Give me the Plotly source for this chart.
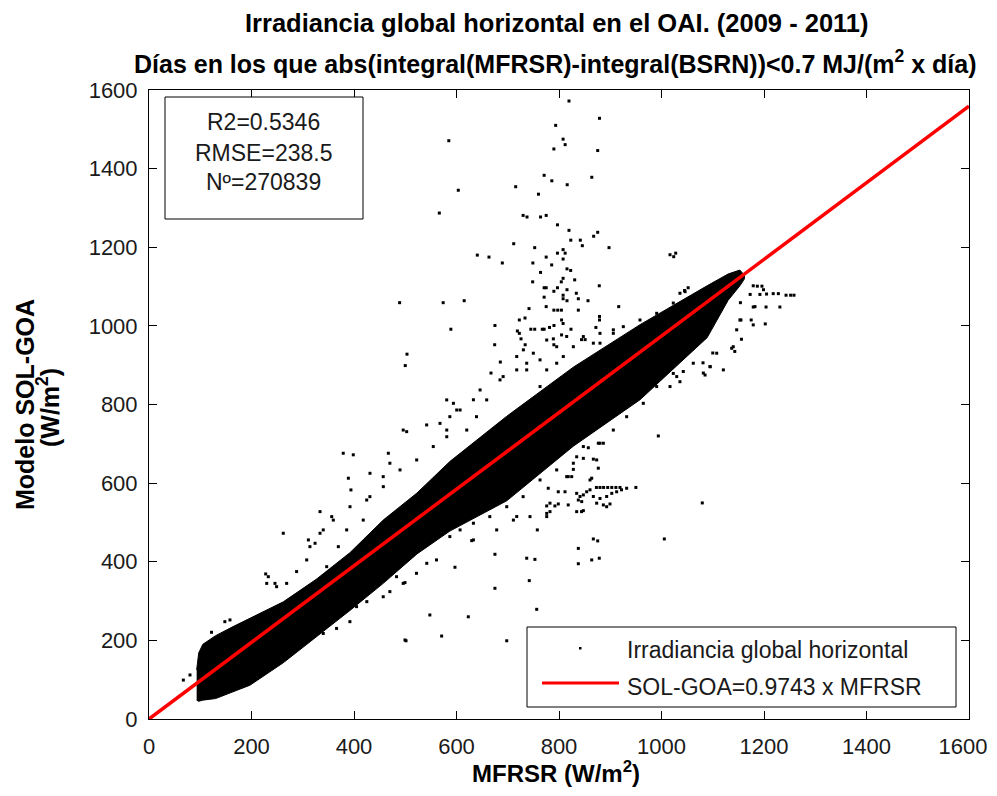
import plotly.graph_objects as go

# ---------------- data ----------------
# Dense core of the 270 839-point cloud: upper and lower envelope per MFRSR value
band_x = [93, 97, 105, 130, 164, 197, 262, 327, 392, 457, 523, 587, 698, 828, 958, 1089, 1130, 1153, 1162]
band_upper = [125, 168, 190, 212, 235, 256, 298, 356, 423, 506, 575, 655, 770, 895, 1003, 1102, 1132, 1142, 1128]
band_lower = [48, 45, 48, 52, 70, 86, 143, 210, 276, 345, 420, 478, 555, 694, 812, 970, 1065, 1102, 1120]

# Isolated points outside the dense core
outlier_x = [
    819.5, 879, 793.5, 808, 812, 790, 875.5, 585, 771, 786, 864, 816, 715.5, 760, 603.5, 566.5, 730, 737.6, 764, 775,
    797, 819.5, 875.5, 867.6, 823, 841.6, 845.5, 897.6, 711.6, 752.6, 640.6, 663.4, 689.4, 808, 812, 797, 808, 775,
    785.7, 749, 764, 815.6, 822.8, 808, 804.5, 830.6, 748.6, 1016.6, 1023.8, 1027.7, 878.6, 489, 574, 615, 771, 775,
    797, 790, 815.6, 833.8, 771, 808, 808, 815.6, 837.7, 856.6, 775, 741.5, 790, 797.5, 804.7, 837.7, 916.5, 733.7,
    722.6, 675, 589, 674.5, 503.4, 500, 685.5, 667.3, 879, 879, 745, 752.6, 767.4, 771, 781.5, 790.2, 805, 808,
    823.4, 872, 718.8, 722.6, 725.9, 734, 730.5, 805, 789, 790, 844, 851,
    691, 646, 633, 607, 594, 620, 581, 639, 587, 717.5, 737, 763, 776, 795.5, 808.4, 815, 867, 880, 906, 925.5, 958,
    990.6, 1023, 1036, 1046, 1052, 1045,
    1179, 1187, 1196, 1199, 1173, 1192, 1205, 1218, 1228, 1243, 1252, 1258.5, 1204, 1231, 1179, 1154, 1202.5, 1156,
    1120.7, 1155, 1175, 1137, 1143, 1100, 1081, 1095, 1085, 1094.6, 1062, 1107.7, 1140, 1146.7, 1153, 1182.4, 1179,
    1081.6, 1042.5, 1016.6, 1029.7, 1023, 1036, 990.6, 964.5, 932, 906, 880, 847.5, 873.5, 828, 795.5, 763, 730, 698,
    665, 633, 607, 587, 782.4, 743.4, 815, 860.5, 776, 711, 678.4, 633,
    873, 880, 887, 895, 903, 911, 919, 834.5, 841, 847.5, 837.7, 844.3, 860.5, 854, 867, 880, 893, 903, 912.5, 922,
    932, 950, 873.5, 886.5, 899.5, 893, 776, 792, 798.6, 776, 782.4, 779, 798.6, 811.7, 834.5, 847.5, 993.8, 1079.6,
    1005.5, 867, 875.5, 837.7, 837.7, 863.8, 878.6, 863.8, 876.7, 886.5, 857.2, 834.5, 847.5, 867, 876.7, 828, 818,
    824.8, 737, 753, 675, 675, 742, 756.5, 623, 548, 571, 501.5, 597, 629.7, 698, 818, 844, 757.7, 717.5,
    314, 340, 366, 392, 405, 425, 457, 470, 496, 522, 542, 561, 499.5, 499.5, 483, 268.6, 281.6, 262, 177.6, 197,
    216.6, 112.6, 132, 151.6,
    262, 227.7, 245.8, 249, 379, 398.6, 389, 333.7, 356.5, 340, 311, 324, 394, 148, 158, 122, 67, 80, 229.7, 232.8,
    268.6, 288, 307.7, 346.7, 369.4, 385.7, 418, 431, 457, 470, 496, 541.8, 567.8, 581,
    431.2, 467, 502.8, 580.9, 600.4, 658.9, 684.9, 717.5, 749.9, 776, 737, 763, 795.5, 828, 847.5, 880, 906,
    554.7, 522.3, 489.8, 457.2, 424.8, 392.2, 359.6, 333.7, 314,
]
outlier_y = [
    1572, 1528, 1510, 1475, 1461, 1450, 1446, 1471, 1383, 1369, 1378, 1359, 1354, 1335, 1345, 1287, 1281, 1277, 1277, 1281,
    1257, 1243, 1238, 1228, 1218, 1218, 1204, 1199, 1209, 1199, 1180, 1175, 1160, 1194, 1185, 1185, 1170, 1175,
    1155, 1160, 1136, 1145, 1141, 1121, 1112, 1117, 1112, 1181, 1176, 1185, 1102, 1059, 1059, 1064, 1097, 1097,
    1097, 1088, 1092, 1083, 1073, 1078, 1069, 1064, 1069, 1064, 1049, 1044, 1040, 1040, 1040, 1040, 1049, 1020,
    1015, 1001, 991.5, 952, 928, 899, 908, 880, 1024, 1015, 991.5, 991.5, 991.5, 991.5, 996, 1001, 1015, 1006,
    991.5, 996, 987, 981, 967, 952, 939, 977, 967, 952, 965, 965,
    871, 837, 812, 786, 803, 735, 735, 769, 769, 922, 888, 913.5, 888, 947, 922, 973, 956, 981, 990, 998, 1015,
    1032, 1058, 1083, 1087, 1097, 1090,
    1102, 1101, 1101, 1092, 1080, 1080, 1081, 1082, 1082, 1078, 1078, 1078, 1048, 1048, 1048, 1059, 1005, 966,
    888, 1015, 1015, 943, 935, 931, 906, 896, 875, 896.5, 905, 930.5, 947, 990, 1015, 1049, 1002.5,
    880, 884, 845.6, 871, 879, 858, 845.6, 803, 769, 735, 701.5, 693, 659, 650.6, 633.6, 608, 565.6, 540,
    514.8, 498, 481, 464, 549, 514.8, 616.5, 608, 514.8, 506, 481, 455.5,
    589, 589, 589, 589, 589, 589, 589, 574, 566, 570, 557, 553, 583, 578, 566, 561, 566, 574, 578, 583,
    587, 589, 549, 544.5, 547, 540, 542, 542, 547, 523, 527.5, 587, 578, 578, 527.5, 530, 720, 549.6,
    458, 458, 453, 434, 395, 404.6, 409, 612.5, 701.5, 701.5, 690, 667, 663, 661, 638, 635, 616.5,
    616.5, 409, 406, 419, 332.5, 352, 279, 260, 264.6, 211, 199, 386, 453.7, 199, 544.5, 527.5, 481, 515,
    208, 217.6, 230.4, 247.6, 285.8, 298.5, 311, 324, 345, 370.6, 396, 404.6, 201, 347, 362, 197, 205, 192.6, 91, 103.6,
    116, 56.7, 65, 74,
    472.5, 369, 345, 336.6, 676, 672, 612.5, 527.5, 514.8, 481, 455.5, 447, 582.7, 247.6, 252, 220.6, 99, 112, 345, 362,
    345, 375, 404.6, 387.5, 438.4, 481, 506, 565.6, 616.5, 650.6, 735, 748, 752, 718,
    625, 676, 731, 811.7, 786, 811.7, 862.6, 888, 930.5, 964, 905, 845.6, 905, 947, 972.8, 956, 981,
    693, 659, 633.6, 591, 557, 540, 506, 472.5, 438.4,
]

# Fitted line SOL-GOA = 0.9743 x MFRSR
fit_slope = 0.9743
fit_x = [0, 1600]

axis_ticks = [0, 200, 400, 600, 800, 1000, 1200, 1400, 1600]
tick_labels = ["0", "200", "400", "600", "800", "1000", "1200", "1400", "1600"]
stats_lines = ["R2=0.5346", "RMSE=238.5", "Nº=270839"]
legend_labels = ["Irradiancia global horizontal", "SOL-GOA=0.9743 x MFRSR"]

title_1 = "Irradiancia global horizontal en el OAI. (2009 - 2011)"
title_2 = "Días en los que abs(integral(MFRSR)-integral(BSRN))<0.7 MJ/(m<sup>2</sup> x día)"
x_title = "MFRSR (W/m<sup>2</sup>)"
y_title_1 = "Modelo SOL-GOA"
y_title_2 = "(W/m<sup>2</sup>)"

FONT = "Liberation Sans, Arial, Helvetica, sans-serif"

# ---------------- figure ----------------
fig = go.Figure()

# dense core of the cloud
fig.add_trace(go.Scatter(
    x=band_x + band_x[::-1],
    y=band_upper + band_lower[::-1],
    fill="toself", fillcolor="black",
    line=dict(color="black", width=1),
    mode="lines", hoverinfo="skip", showlegend=False,
    name=legend_labels[0],
))
# isolated points
fig.add_trace(go.Scatter(
    x=outlier_x, y=outlier_y, mode="markers",
    marker=dict(color="black", size=3, symbol="square", line=dict(width=0)),
    showlegend=False, name=legend_labels[0],
))
# fitted line
fig.add_trace(go.Scatter(
    x=fit_x, y=[fit_slope * v for v in fit_x], mode="lines",
    line=dict(color="#ff0000", width=3.5),
    showlegend=False, name=legend_labels[1],
))

axis_common = dict(
    range=[0, 1600], tickvals=axis_ticks,
    showgrid=False, zeroline=False, showline=True, linecolor="black", linewidth=1,
    mirror="ticks", ticks="inside", ticklen=8, tickwidth=1, tickcolor="black",
    tickfont=dict(family=FONT, size=22, color="#1a1a1a"),
)
# last x label nudged slightly left (trailing no-break spaces) so it stays inside the page
x_tick_text = tick_labels[:-1] + [tick_labels[-1] + "\u00a0\u00a0"]
fig.update_xaxes(**axis_common, ticktext=x_tick_text, ticklabelstandoff=8, ticklabeloverflow="allow")
fig.update_yaxes(**axis_common, ticktext=tick_labels, ticklabelstandoff=6)

def px_x(p):
    return (p - 149) / 820.0

def px_y(p):
    return (719 - p) / 629.0

ann = []
# titles
ann.append(dict(text="<b>" + title_1 + "</b>", x=px_x(557), y=px_y(23), size=25.5))
ann.append(dict(text="<b>" + title_2 + "</b>", x=px_x(555), y=px_y(62), size=25))
ann.append(dict(text="<b>" + x_title + "</b>", x=px_x(556), y=px_y(772), size=24))
ann.append(dict(text="<b>" + y_title_1 + "</b>", x=px_x(25), y=px_y(405), size=25, textangle=-90))
ann.append(dict(text="<b>" + y_title_2 + "</b>", x=px_x(48), y=px_y(408), size=25, textangle=-90))
for a in ann:
    s = a.pop("size")
    a.update(xref="paper", yref="paper", showarrow=False, xanchor="center", yanchor="middle",
             font=dict(family=FONT, size=s, color="black"))

# stats box text
for line, py in zip(stats_lines, [122, 153, 182]):
    ann.append(dict(text=line, x=px_x(263), y=px_y(py), xref="paper", yref="paper", showarrow=False,
                    xanchor="center", yanchor="middle", font=dict(family=FONT, size=23, color="#1a1a1a")))
# legend text
for line, py in zip(legend_labels, [650, 687]):
    ann.append(dict(text=line, x=px_x(625), y=px_y(py), xref="paper", yref="paper", showarrow=False,
                    xanchor="left", yanchor="middle", font=dict(family=FONT, size=23, color="#1a1a1a")))

shapes = [
    # stats box
    dict(type="rect", xref="paper", yref="paper", x0=px_x(165), x1=px_x(363), y0=px_y(219), y1=px_y(97),
         line=dict(color="black", width=1), fillcolor="white", layer="above"),
    # legend box
    dict(type="rect", xref="paper", yref="paper", x0=px_x(527), x1=px_x(956), y0=px_y(707), y1=px_y(627),
         line=dict(color="black", width=1), fillcolor="white", layer="above"),
    # legend red line sample
    dict(type="line", xref="paper", yref="paper", x0=px_x(542), x1=px_x(619), y0=px_y(683), y1=px_y(683),
         line=dict(color="#ff0000", width=3), layer="above"),
    # legend dot sample
    dict(type="rect", xref="paper", yref="paper", x0=px_x(579), x1=px_x(581.5), y0=px_y(649.5), y1=px_y(647),
         line=dict(width=0), fillcolor="black", layer="above"),
]

# the page has an 8px body margin, so the figure is made smaller and offset by 8px
fig.update_layout(
    width=989, height=780,
    margin=dict(l=141, r=28, t=82, b=69, autoexpand=False),
    paper_bgcolor="white", plot_bgcolor="white",
    showlegend=False,
    annotations=ann, shapes=shapes,
    font=dict(family=FONT, color="black"),
)

fig.write_html("out.html")
